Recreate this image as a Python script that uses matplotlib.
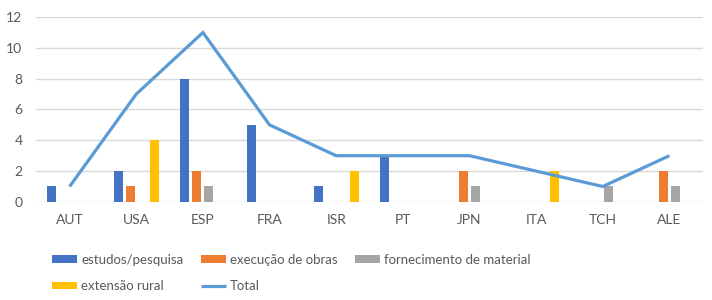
import numpy as np
import matplotlib.pyplot as plt

plt.rcParams['font.family'] = ['Lato', 'DejaVu Sans']

# dados
paises = ["AUT", "USA", "ESP", "FRA", "ISR", "PT", "JPN", "ITA", "TCH", "ALE"]
estudos = [1, 2, 8, 5, 1, 3, 0, 0, 0, 0]
execucao = [0, 1, 2, 0, 0, 0, 2, 0, 0, 2]
fornecimento = [0, 0, 1, 0, 0, 0, 1, 0, 1, 1]
extensao = [0, 4, 0, 0, 2, 0, 0, 2, 0, 0]
total = [1, 7, 11, 5, 3, 3, 3, 2, 1, 3]

cor_txt = "#595959"
fig = plt.figure(figsize=(7.12, 3.0), dpi=100)
ax = fig.add_axes([0.051, 0.327, 0.936, 0.616])

x = np.arange(len(paises))
w = 0.135
passo = 0.18
series = [
    (estudos, "estudos/pesquisa", "#4472C4"),
    (execucao, "execução de obras", "#ED7D31"),
    (fornecimento, "fornecimento de material", "#A5A5A5"),
    (extensao, "extensão rural", "#FFC000"),
]
handles = []
for i, (vals, nome, cor) in enumerate(series):
    b = ax.bar(x + (i - 1.5) * passo, vals, width=w, color=cor, label=nome, zorder=2)
    handles.append(b)
linha, = ax.plot(x, total, color="#5B9BD5", linewidth=2.3, label="Total", zorder=3,
                 solid_capstyle="butt", solid_joinstyle="miter")
handles.append(linha)

ax.set_xlim(-0.5, len(paises) - 0.5)
ax.set_ylim(0, 12)
ax.set_yticks(range(0, 13, 2))
ax.set_xticks(x)
ax.set_xticklabels(paises)
ax.grid(axis="y", color="#D9D9D9", linewidth=1, zorder=0)
for s in ["top", "right", "left", "bottom"]:
    ax.spines[s].set_visible(False)
ax.tick_params(length=0, labelsize=10, colors=cor_txt, pad=9)
ax.tick_params(axis="y", pad=10)

# ordem por linha no legend (matplotlib preenche por coluna)
ordem = [0, 3, 1, 4, 2]
fig.legend([handles[i] for i in ordem], [handles[i].get_label() for i in ordem],
           loc="upper left", bbox_to_anchor=(0.066, 0.172), ncol=3, frameon=False,
           fontsize=9.5, labelcolor=cor_txt, handlelength=1.9, handleheight=0.5,
           handletextpad=0.3, columnspacing=1.3, labelspacing=1.1, borderaxespad=0)

fig.savefig("out.png", dpi=100)
